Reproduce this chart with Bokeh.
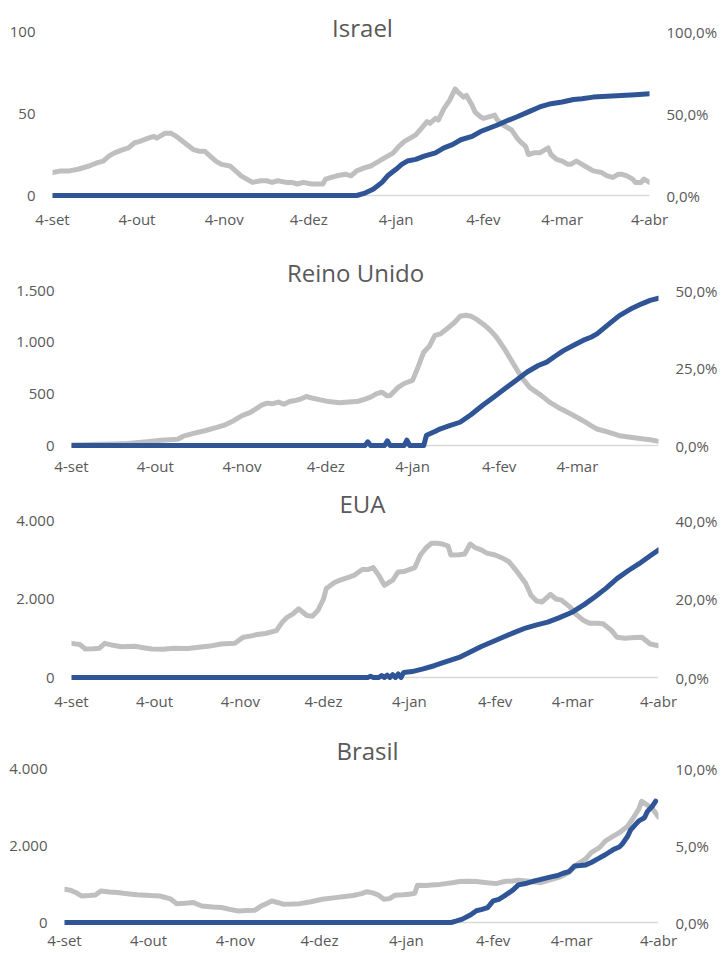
import pandas as pd
from bokeh.plotting import figure
from bokeh.models import Range1d, LinearAxis, FixedTicker, Span, Label
from bokeh.embed import file_html
from bokeh.resources import INLINE

# ---------------- data (days counted from 4-set-2020) ----------------
start_date = "2020-09-04"
tick_dates = ["2020-09-04", "2020-10-04", "2020-11-04", "2020-12-04",
              "2021-01-04", "2021-02-04", "2021-03-04", "2021-04-04"]
tick_labels = ["4-set", "4-out", "4-nov", "4-dez", "4-jan", "4-fev", "4-mar", "4-abr"]

# Israel
israel_death_days = [0, 3, 6, 9, 13, 16, 18, 20, 22, 25, 27, 29, 31, 34, 36, 37, 39, 40, 42, 44,
                     47, 50, 52, 54, 56, 58, 60, 63, 65, 67, 69, 71, 74, 76, 78, 80, 83, 85, 87, 89,
                     92, 94, 96, 97, 99, 101, 104, 106, 108, 111, 113, 114, 116, 117, 119, 121, 123, 125, 127, 129,
                     131, 133, 134, 136, 137, 139, 141, 143, 144, 146, 147, 149, 150, 152, 153, 155, 157, 158, 160, 162,
                     163, 165, 166, 168, 169, 171, 173, 175, 176, 177, 179, 181, 183, 184, 186, 187, 189, 192, 195, 197,
                     199, 201, 202, 204, 206, 207, 209, 210, 212]
israel_deaths = [14, 15, 15, 16, 18, 20, 21, 24, 26, 28, 29, 32, 33, 35, 36, 35, 37, 38, 38, 36,
                 32, 28, 27, 27, 24, 21, 19, 18, 15, 12, 10, 8, 9, 9, 8, 9, 8, 8, 7, 8,
                 7, 7, 7, 10, 11, 12, 13, 12, 15, 17, 18, 19, 21, 22, 24, 26, 30, 33, 35, 37,
                 41, 45, 44, 47, 46, 53, 58, 65, 63, 60, 61, 55, 51, 48, 47, 48, 49, 46, 43, 41,
                 40, 35, 33, 30, 25, 26, 26, 28, 29, 25, 22, 21, 19, 19, 21, 20, 18, 15, 14, 12,
                 11, 13, 13, 12, 10, 8, 8, 10, 8]
israel_vacc_days = [0, 108, 111, 114, 117, 119, 122, 124, 126, 129, 132, 136, 139, 142, 145, 149, 152, 155, 158, 162,
                    165, 169, 173, 177, 181, 185, 188, 192, 197, 202, 207, 212]
israel_vacc = [0, 0, 1.5, 4, 8, 12, 16, 19, 21, 22, 24, 26, 29, 31, 34, 36, 39, 41, 43, 46,
               48, 51, 54, 56, 57, 58.5, 59, 60, 60.5, 61, 61.5, 62]
israel_left_ticks = [0, 50, 100]
israel_left_labels = ["0", "50", "100"]
israel_right_ticks = [0, 50, 100]
israel_right_labels = ["0,0%", "50,0%", "100,0%"]

# Reino Unido
uk_death_days = [0, 5, 10, 15, 20, 24, 28, 32, 35, 38, 40, 44, 48, 52, 55, 58, 61, 64, 66, 68,
                 70, 72, 74, 76, 78, 80, 82, 84, 86, 89, 92, 96, 99, 102, 104, 107, 109, 111, 113, 114,
                 116, 117, 119, 122, 124, 126, 128, 130, 132, 135, 137, 139, 141, 143, 145, 148, 150, 152, 155, 157,
                 159, 161, 164, 168, 171, 175, 179, 183, 186, 188, 192, 196, 200, 204, 207, 210]
uk_deaths = [5, 8, 12, 15, 20, 30, 40, 50, 55, 60, 90, 120, 145, 175, 200, 240, 290, 320, 355, 390,
             410, 405, 420, 400, 425, 435, 450, 474, 460, 442, 425, 413, 420, 425, 440, 468, 500, 516, 480, 484,
             540, 565, 600, 630, 760, 903, 960, 1065, 1080, 1145, 1190, 1250, 1260, 1250, 1220, 1160, 1110, 1050, 930, 840,
             750, 660, 560, 485, 420, 355, 300, 240, 190, 160, 130, 95, 80, 65, 55, 40]
uk_vacc_days = [0, 105, 106, 107, 112, 113, 114, 119, 120, 121, 126, 127, 130, 132, 135, 139, 143, 147, 151, 155,
                159, 163, 167, 170, 173, 176, 180, 183, 186, 188, 192, 196, 200, 204, 207, 210]
uk_vacc = [0, 0, 1.2, 0, 0, 1.5, 0, 0, 1.7, 0, 0, 3.3, 4.5, 5.4, 6.3, 7.5, 10, 12.9, 15.6, 18.3,
           21, 23.7, 25.8, 26.9, 28.8, 30.6, 32.5, 33.9, 35, 36, 39, 41.9, 44, 45.7, 46.8, 47.5]
uk_left_ticks = [0, 500, 1000, 1500]
uk_left_labels = ["0", "500", "1.000", "1.500"]
uk_right_ticks = [0, 25, 50]
uk_right_labels = ["0,0%", "25,0%", "50,0%"]

# EUA
us_death_days = [0, 3, 5, 8, 10, 12, 15, 18, 23, 26, 29, 33, 37, 42, 46, 50, 54, 59, 62, 65,
                 67, 70, 74, 76, 78, 80, 82, 85, 87, 89, 91, 92, 95, 97, 100, 102, 105, 107, 109, 111,
                 113, 116, 118, 120, 122, 124, 126, 128, 130, 132, 134, 136, 137, 140, 142, 144, 146, 148, 150, 153,
                 156, 158, 161, 164, 166, 168, 170, 173, 175, 177, 180, 182, 185, 187, 190, 192, 195, 197, 200, 202,
                 206, 209, 212]
us_deaths = [870, 840, 725, 730, 745, 870, 820, 785, 795, 760, 725, 720, 745, 740, 770, 800, 855, 870, 1025, 1060,
             1095, 1120, 1195, 1400, 1540, 1620, 1750, 1580, 1560, 1710, 2000, 2265, 2420, 2480, 2550, 2600, 2750, 2750, 2800, 2600,
             2350, 2480, 2690, 2700, 2750, 2800, 3120, 3300, 3420, 3420, 3400, 3350, 3120, 3130, 3145, 3400, 3300, 3250, 3170, 3120,
             3030, 2950, 2690, 2400, 2090, 1950, 1925, 2120, 2000, 1970, 1800, 1625, 1450, 1385, 1380, 1370, 1200, 1025, 1000, 1010,
             1025, 855, 810]
us_vacc_days = [0, 107, 108, 109, 111, 112, 113, 114, 115, 116, 117, 118, 119, 120, 123, 127, 131, 135, 140, 144,
                148, 152, 156, 160, 164, 168, 172, 176, 181, 185, 189, 193, 197, 201, 205, 209, 212]
us_vacc = [0, 0, 0.3, 0, 0, 0.5, 0, 0.6, 0, 0.7, 0, 0.9, 0, 1.3, 1.5, 2.2, 3, 4, 5.1, 6.5,
           7.9, 9.1, 10.3, 11.5, 12.6, 13.4, 14.1, 15.2, 16.7, 18.5, 20.5, 22.7, 25.2, 27.2, 29, 31, 32.5]
us_left_ticks = [0, 2000, 4000]
us_left_labels = ["0", "2.000", "4.000"]
us_right_ticks = [0, 20, 40]
us_right_labels = ["0,0%", "20,0%", "40,0%"]

# Brasil
br_death_days = [0, 2, 4, 6, 9, 11, 13, 16, 19, 21, 24, 26, 29, 31, 34, 36, 38, 40, 43, 46,
                 49, 53, 56, 59, 62, 65, 68, 70, 72, 74, 76, 78, 81, 84, 88, 92, 96, 100, 103, 106,
                 108, 110, 112, 114, 116, 118, 121, 123, 125, 126, 129, 131, 134, 136, 139, 141, 144, 147, 150, 154,
                 157, 160, 162, 165, 168, 170, 173, 177, 180, 183, 186, 188, 191, 193, 196, 198, 201, 203, 205, 206,
                 208, 210, 212]
br_deaths = [865, 840, 780, 690, 700, 715, 820, 790, 780, 760, 735, 720, 710, 700, 690, 650, 605, 490, 500, 520,
             430, 400, 390, 340, 300, 310, 320, 420, 490, 560, 520, 475, 480, 490, 540, 605, 640, 675, 700, 750,
             800, 770, 715, 605, 620, 710, 720, 735, 760, 970, 960, 975, 990, 1010, 1040, 1065, 1070, 1065, 1040, 1010,
             1065, 1080, 1100, 1080, 1050, 1035, 1100, 1185, 1300, 1510, 1650, 1815, 1950, 2115, 2250, 2330, 2500, 2720, 2950, 3150,
             3050, 2940, 2740]
br_vacc_days = [0, 138, 140, 142, 145, 147, 149, 151, 153, 155, 157, 160, 162, 165, 167, 170, 174, 176, 178, 180,
                182, 184, 186, 188, 190, 193, 196, 198, 199, 201, 202, 204, 205, 207, 208, 210, 211]
br_vacc = [0, 0, 0.1, 0.22, 0.5, 0.76, 0.85, 0.97, 1.4, 1.5, 1.73, 2.1, 2.44, 2.55, 2.66, 2.8, 2.98, 3.05, 3.2, 3.3,
           3.67, 3.7, 3.74, 3.9, 4.1, 4.4, 4.75, 4.9, 5.08, 5.6, 6.0, 6.4, 6.6, 6.8, 7.2, 7.6, 7.88]
br_left_ticks = [0, 2000, 4000]
br_left_labels = ["0", "2.000", "4.000"]
br_right_ticks = [0, 5, 10]
br_right_labels = ["0,0%", "5,0%", "10,0%"]

# ---------------- styling ----------------
FONT = "Open Sans"
TEXT = "#595959"
GRAY = "#BFBFBF"
BLUE = "#2F5597"
BASE = "#D9D9D9"
FIG_W = 720

EPOCH = pd.Timestamp("1970-01-01")
START = pd.Timestamp(start_date)


def to_ms(ts):
    return (ts - EPOCH) / pd.Timedelta(milliseconds=1)


def days_to_ms(days):
    return [to_ms(START + pd.Timedelta(days=int(d))) for d in days]


tick_ms = [to_ms(pd.Timestamp(d)) for d in tick_dates]


def style_axis(ax, ticks, labels, standoff):
    ax.ticker = FixedTicker(ticks=ticks, minor_ticks=[])
    ax.major_label_overrides = {t: l for t, l in zip(ticks, labels)}
    ax.major_tick_in = 0
    ax.major_tick_out = 0
    ax.minor_tick_in = 0
    ax.minor_tick_out = 0
    ax.axis_line_color = None
    ax.major_label_text_color = TEXT
    ax.major_label_text_font = FONT
    ax.major_label_text_font_size = "15px"
    ax.major_label_standoff = standoff


def panel(name, d_days, d_vals, v_days, v_vals, last_day,
          lt, ll, rt, rl, geo):
    # geo (page pixels): fig top, fig height, frame left, frame right,
    # y of zero, y of top tick, title y, title x, x-label standoff
    top, h, fl, fr, y0, yt, ty, tx, xs = geo
    ppu = (y0 - yt) / lt[-1]
    frame_top = top
    frame_bottom = y0 + 3
    y_end = lt[-1] + (yt - frame_top) / ppu
    y_start = -(frame_bottom - y0) / ppu
    ratio = rt[-1] / lt[-1]

    x_end = to_ms(START + pd.Timedelta(days=last_day))
    p = figure(width=FIG_W, height=h, output_backend="svg", toolbar_location=None,
               x_axis_type="datetime",
               x_range=Range1d(to_ms(START), x_end),
               y_range=Range1d(y_start, y_end),
               min_border_left=fl, min_border_right=FIG_W - fr,
               min_border_top=0, min_border_bottom=(top + h) - frame_bottom)
    p.title.visible = False
    p.outline_line_color = None
    p.xgrid.visible = False
    p.ygrid.visible = False
    p.background_fill_color = "white"
    p.border_fill_color = "white"

    p.extra_y_ranges = {"pct": Range1d(y_start * ratio, y_end * ratio)}
    right = LinearAxis(y_range_name="pct")
    p.add_layout(right, "right")

    style_axis(p.yaxis[0], lt, ll, 17)
    style_axis(right, rt, rl, 17)
    style_axis(p.xaxis[0], tick_ms, tick_labels, xs)

    p.add_layout(Span(location=0, dimension="width", line_color=BASE, line_width=1.5,
                      level="underlay"))

    p.line(days_to_ms(d_days), d_vals, line_color=GRAY, line_width=5,
           line_join="round", line_cap="round")
    p.line(days_to_ms(v_days), v_vals, y_range_name="pct", line_color=BLUE,
           line_width=5, line_join="round", line_cap="round")

    p.add_layout(Label(x=tx - fl, y=frame_bottom - ty, x_units="screen", y_units="screen",
                       text=name, text_align="center", text_baseline="middle",
                       text_font=FONT, text_font_size="24px", text_color=TEXT))
    return p


p1 = panel("Israel", israel_death_days, israel_deaths, israel_vacc_days, israel_vacc, 212,
           israel_left_ticks, israel_left_labels, israel_right_ticks, israel_right_labels,
           (0, 240, 52, 650, 195, 31, 27, 362, 10))
p2 = panel("Reino Unido", uk_death_days, uk_deaths, uk_vacc_days, uk_vacc, 210,
           uk_left_ticks, uk_left_labels, uk_right_ticks, uk_right_labels,
           (240, 240, 71, 660, 445, 290, 272, 355, 7))
p3 = panel("EUA", us_death_days, us_deaths, us_vacc_days, us_vacc, 212,
           us_left_ticks, us_left_labels, us_right_ticks, us_right_labels,
           (480, 235, 71, 662, 677, 520, 503, 362, 10))
p4 = panel("Brasil", br_death_days, br_deaths, br_vacc_days, br_vacc, 212,
           br_left_ticks, br_left_labels, br_right_ticks, br_right_labels,
           (715, 238, 64, 659, 922, 768, 750, 367, 4))

open("out.html", "w").write(file_html([p1, p2, p3, p4], INLINE))
